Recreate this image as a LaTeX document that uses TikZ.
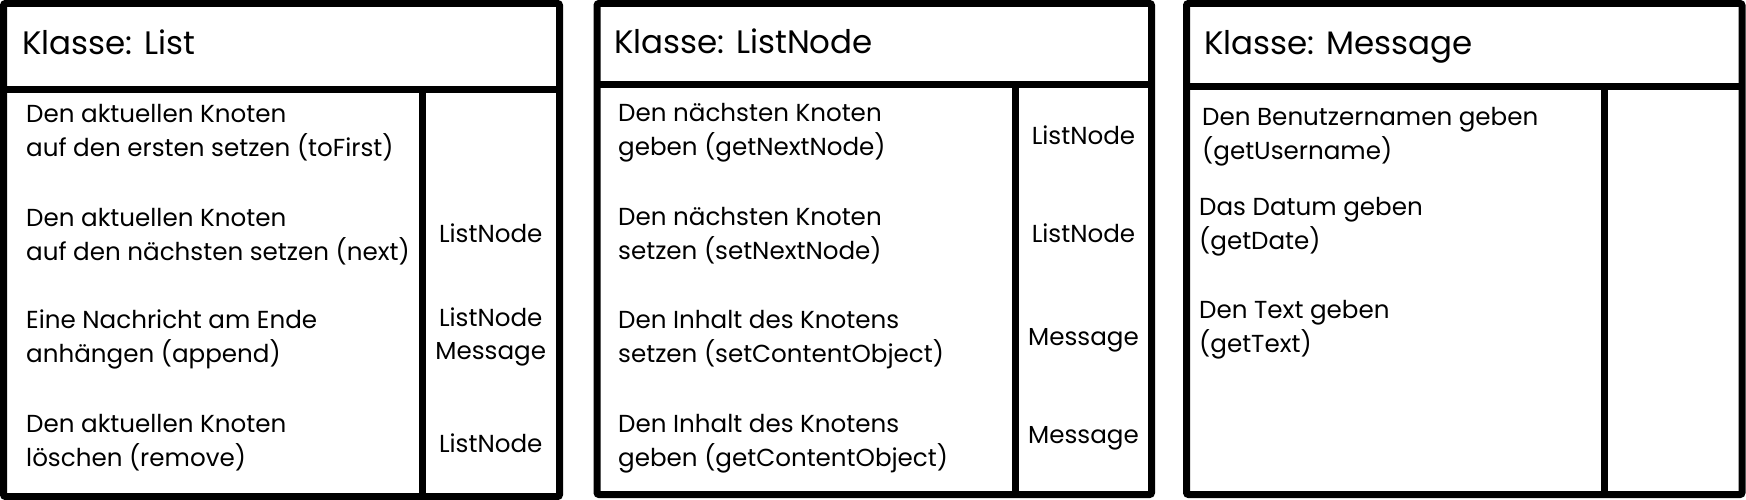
\documentclass[tikz,border=0pt]{standalone}
\usepackage{fontspec}
\setmainfont{Poppins}
\begin{document}
\begin{tikzpicture}[x=1pt,y=-1pt,
  frame/.style={line width=7pt, rounded corners=2pt},
  rule/.style={line width=7pt},
  ttl/.style={anchor=base west, inner sep=0pt, font=\fontsize{32.5}{38}\selectfont},
  txt/.style={anchor=base west, inner sep=0pt, font=\fontsize{24.6}{34}\selectfont},
  typ/.style={anchor=base, inner sep=0pt, font=\fontsize{24.6}{34}\selectfont}]
\useasboundingbox (0,0) rectangle (1746,500);
% Box 1: List
\draw[frame] (3.5,3.5) rectangle (559.5,496.5);
\draw[rule] (3.5,89.5) -- (559.5,89.5);
\draw[rule] (422,89.5) -- (422,496.5);
\node[ttl] (t1) at (22,55) {Klasse: List};
\node[txt] (a1) at (26,123) {Den aktuellen Knoten};
\node[txt] (a2) at (26,157) {auf den ersten setzen (toFirst)};
\node[txt] (a3) at (26,226) {Den aktuellen Knoten};
\node[txt] (a4) at (26,260) {auf den nächsten setzen (next)};
\node[txt] (a5) at (26,328) {Eine Nachricht am Ende};
\node[txt] (a6) at (26,362) {anhängen (append)};
\node[txt] (a7) at (26,432) {Den aktuellen Knoten};
\node[txt] (a8) at (26,466) {löschen (remove)};
\node[typ] (r1) at (490.75,242) {ListNode};
\node[typ] (r2) at (490.75,326) {ListNode};
\node[typ] (r3) at (490.75,359) {Message};
\node[typ] (r4) at (490.75,452) {ListNode};
% Box 2: ListNode
\draw[frame] (597,3.5) rectangle (1151.5,494.5);
\draw[rule] (597,84.5) -- (1151.5,84.5);
\draw[rule] (1015.5,84.5) -- (1015.5,494.5);
\node[ttl] (t2) at (614,54) {Klasse: ListNode};
\node[txt] (b1) at (618,122) {Den nächsten Knoten};
\node[txt] (b2) at (618,156) {geben (getNextNode)};
\node[txt] (b3) at (618,225) {Den nächsten Knoten};
\node[txt] (b4) at (618,259) {setzen (setNextNode)};
\node[txt] (b5) at (618,328) {Den Inhalt des Knotens};
\node[txt] (b6) at (618,362) {setzen (setContentObject)};
\node[txt] (b7) at (618,432) {Den Inhalt des Knotens};
\node[txt] (b8) at (618,466) {geben (getContentObject)};
\node[typ] (s1) at (1083.5,145) {ListNode};
\node[typ] (s2) at (1083.5,242) {ListNode};
\node[typ] (s3) at (1083.5,345) {Message};
\node[typ] (s4) at (1083.5,443) {Message};
% Box 3: Message
\draw[frame] (1186.5,3.5) rectangle (1742,494.5);
\draw[rule] (1186.5,86.5) -- (1742,86.5);
\draw[rule] (1604.5,86.5) -- (1604.5,494.5);
\node[ttl] (t3) at (1204,55) {Klasse: Message};
\node[txt] (c1) at (1202,126) {Den Benutzernamen geben};
\node[txt] (c2) at (1202,160) {(getUsername)};
\node[txt] (c3) at (1199,215) {Das Datum geben};
\node[txt] (c4) at (1199,249) {(getDate)};
\node[txt] (c5) at (1199,318) {Den Text geben};
\node[txt] (c6) at (1199,352) {(getText)};
\end{tikzpicture}
\end{document}
